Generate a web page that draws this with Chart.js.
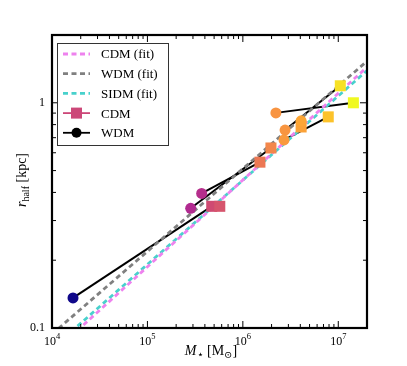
<!DOCTYPE html>
<html>
<head>
<meta charset="utf-8">
<script src="https://cdn.jsdelivr.net/npm/chart.js"></script>
<style>
  body { margin: 0; background: #fff; }
  #wrap { width: 407px; height: 366px; }
</style>
</head>
<body>
<div id="wrap"><canvas id="chart" width="407" height="366"></canvas></div>
<script>
// stellar mass [Msun] and half-light radius [kpc]
var cdmMass = [472000, 573000, 1510000, 1970000, 4080000, 7850000, 10500000, 14400000];
var cdmRadius = [0.347, 0.347, 0.545, 0.630, 0.781, 0.866, 1.19, 1.00];
var cdmColors = ["#cf4a72", "#d6556d", "#ec7854", "#f3874b", "#fba238", "#fcc22a", "#f7e125", "#f0f921"];

var wdmMass = [16600, 284000, 370000, 2220000, 2770000, 2700000, 4080000];
var wdmRadius = [0.136, 0.340, 0.396, 0.902, 0.757, 0.684, 0.832];
var wdmColors = ["#10088a", "#b12a90", "#b52e8c", "#f89441", "#f89540", "#f99a3e", "#fca636"];

// [wdm index, cdm index] joined by a black line
var pairs = [[0, 0], [1, 3], [2, 2], [3, 7], [4, 6], [5, 5], [6, 4]];

// fit lines, end points
var fitMass = [10000, 20000000];
var cdmFit = [0.077, 1.44];
var wdmFit = [0.094, 1.53];
var sidmFit = [0.081, 1.39];

var xMajor = [1e4, 1e5, 1e6, 1e7];
var xTickExp = ["4", "5", "6", "7"];
var yMajor = [0.1, 1];
var yTickLabels = ["0.1", "1"];

var serif = "'Liberation Serif', 'DejaVu Serif', serif";

function pts(xs, ys) {
  return xs.map(function (x, i) { return { x: x, y: ys[i] }; });
}

var datasets = [];
datasets.push({ data: pts(wdmMass, wdmRadius), pointStyle: "circle", pointRadius: 5.5,
  backgroundColor: wdmColors, borderWidth: 0, showLine: false, order: 0 });
datasets.push({ data: pts(cdmMass, cdmRadius), pointStyle: "rect", pointRadius: 7.8,
  backgroundColor: cdmColors, borderWidth: 0, showLine: false, order: 0 });

var fits = [[cdmFit, "violet"], [sidmFit, "mediumturquoise"], [wdmFit, "gray"]];
fits.forEach(function (f) {
  datasets.push({ data: pts(fitMass, f[0]), showLine: true, borderColor: f[1], borderWidth: 2.8,
    borderDash: [5, 3.5], pointRadius: 0, order: 1 });
});

pairs.forEach(function (p) {
  datasets.push({ data: [{ x: wdmMass[p[0]], y: wdmRadius[p[0]] }, { x: cdmMass[p[1]], y: cdmRadius[p[1]] }],
    showLine: true, borderColor: "#000", borderWidth: 2, pointRadius: 0, order: 2 });
});

function seg(ctx, x1, y1, x2, y2) {
  ctx.beginPath(); ctx.moveTo(x1, y1); ctx.lineTo(x2, y2); ctx.stroke();
}

var frame = {
  id: "frame",
  afterDraw: function (chart) {
    var ctx = chart.ctx, a = chart.chartArea;
    var xs = chart.scales.x, ys = chart.scales.y;
    ctx.save();
    ctx.strokeStyle = "#000";
    ctx.lineWidth = 1;

    // x ticks, inward on top and bottom
    xMajor.forEach(function (d) {
      var px = xs.getPixelForValue(d);
      seg(ctx, px, a.bottom, px, a.bottom - 7);
      seg(ctx, px, a.top, px, a.top + 7);
      for (var k = 2; k <= 9; k++) {
        if (d * k > xs.max) break;
        var mx = xs.getPixelForValue(d * k);
        seg(ctx, mx, a.bottom, mx, a.bottom - 4);
        seg(ctx, mx, a.top, mx, a.top + 4);
      }
    });
    // y ticks, inward on left and right
    yMajor.forEach(function (d) {
      var py = ys.getPixelForValue(d);
      seg(ctx, a.left, py, a.left + 7, py);
      seg(ctx, a.right, py, a.right - 7, py);
      for (var k = 2; k <= 9; k++) {
        if (d * k > ys.max) break;
        var my = ys.getPixelForValue(d * k);
        seg(ctx, a.left, my, a.left + 4, my);
        seg(ctx, a.right, my, a.right - 4, my);
      }
    });

    ctx.lineWidth = 2.2;
    ctx.strokeRect(a.left, a.top, a.right - a.left, a.bottom - a.top);

    // tick labels
    ctx.fillStyle = "#000";
    ctx.textBaseline = "alphabetic";
    xMajor.forEach(function (d, i) {
      var px = xs.getPixelForValue(d);
      ctx.font = "12px " + serif;
      var w1 = ctx.measureText("10").width;
      ctx.font = "8.5px " + serif;
      var w2 = ctx.measureText(xTickExp[i]).width;
      var x0 = px - (w1 + w2) / 2;
      ctx.font = "12px " + serif;
      ctx.textAlign = "left";
      ctx.fillText("10", x0, a.bottom + 17);
      ctx.font = "8.5px " + serif;
      ctx.fillText(xTickExp[i], x0 + w1, a.bottom + 11);
    });
    ctx.font = "12px " + serif;
    ctx.textAlign = "right";
    ctx.textBaseline = "middle";
    yMajor.forEach(function (d, i) {
      ctx.fillText(yTickLabels[i], a.left - 7, ys.getPixelForValue(d));
    });

    // axis titles
    ctx.textBaseline = "alphabetic";
    ctx.textAlign = "left";
    var parts = [["italic 14px ", "M", 0], ["11px ", "\u22c6", 3], ["14px ", " [M", 0], ["10px ", "\u2299", 3], ["14px ", "]", 0]];
    drawParts(ctx, parts, 211, 355);

    ctx.translate(21, 180);
    ctx.rotate(-Math.PI / 2);
    var yparts = [["italic 14px ", "r", 0], ["10px ", "half", 3], ["14px ", " [kpc]", 0]];
    drawParts(ctx, yparts, 0, 5);
    ctx.restore();

    drawLegend(ctx);
  }
};

function drawParts(ctx, parts, cx, base) {
  var total = 0;
  parts.forEach(function (p) { ctx.font = p[0] + serif; total += ctx.measureText(p[1]).width; });
  var x = cx - total / 2;
  parts.forEach(function (p) {
    ctx.font = p[0] + serif;
    ctx.fillText(p[1], x, base + p[2]);
    x += ctx.measureText(p[1]).width;
  });
}

function drawLegend(ctx) {
  var items = [
    { label: "CDM (fit)", color: "violet", dash: true },
    { label: "WDM (fit)", color: "gray", dash: true },
    { label: "SIDM (fit)", color: "mediumturquoise", dash: true },
    { label: "CDM", color: "#cc4778", marker: "rect" },
    { label: "WDM", color: "#000", marker: "circle" }
  ];
  ctx.save();
  ctx.fillStyle = "#fff";
  ctx.fillRect(57, 43, 112, 103);
  ctx.strokeStyle = "#333";
  ctx.lineWidth = 1;
  ctx.strokeRect(57.5, 43.5, 111, 102);
  items.forEach(function (it, i) {
    var y = 54 + i * 19.7;
    ctx.strokeStyle = it.color;
    if (it.dash) {
      ctx.lineWidth = 2.8;
      ctx.setLineDash([5, 3.5]);
      seg(ctx, 63, y, 90, y);
      ctx.setLineDash([]);
    } else {
      ctx.lineWidth = 1.8;
      seg(ctx, 63, y, 90, y);
      ctx.fillStyle = it.color;
      if (it.marker === "rect") {
        ctx.fillRect(71, y - 5.5, 11, 11);
      } else {
        ctx.beginPath(); ctx.arc(76.5, y, 5, 0, Math.PI * 2); ctx.fill();
      }
    }
    ctx.fillStyle = "#000";
    ctx.font = "13px " + serif;
    ctx.textAlign = "left";
    ctx.textBaseline = "middle";
    ctx.fillText(it.label, 101, y + 1);
  });
  ctx.restore();
}

new Chart(document.getElementById("chart").getContext("2d"), {
  type: "scatter",
  data: { datasets: datasets },
  options: {
    responsive: false,
    animation: false,
    layout: { padding: { left: 52, right: 40, top: 35, bottom: 38 } },
    plugins: { legend: { display: false }, tooltip: { enabled: false } },
    scales: {
      x: { type: "logarithmic", min: 1e4, max: 2e7, display: false },
      y: { type: "logarithmic", min: 0.1, max: 2, display: false }
    }
  },
  plugins: [frame]
});
</script>
</body>
</html>
